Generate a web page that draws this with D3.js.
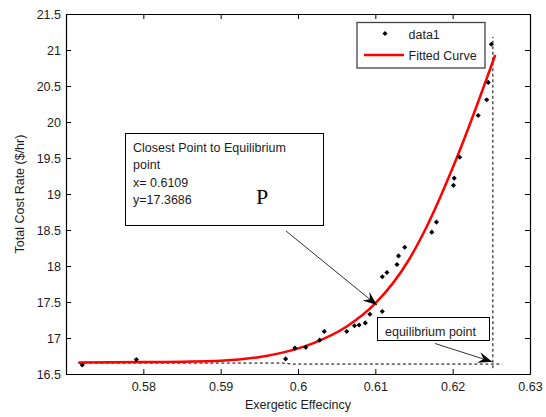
<!DOCTYPE html>
<html>
<head>
<meta charset="utf-8">
<script src="https://cdn.jsdelivr.net/npm/d3@7"></script>
<style>
    html, body { margin: 0; padding: 0; background: #fff; }
    svg { display: block; }
</style>
</head>
<body>
<div id="chart"></div>
<script>
// ===== data =====
const effX = [0.5721, 0.5791, 0.5984, 0.5996, 0.6010, 0.6028, 0.6034, 0.6063, 0.6073, 0.6079,
    0.6087, 0.6093, 0.6109, 0.6109, 0.6115, 0.6128, 0.6130, 0.6138, 0.6173, 0.6179,
    0.6201, 0.6202, 0.6209, 0.6233, 0.6244, 0.6246, 0.6250];
const costY = [16.625, 16.70, 16.71, 16.86, 16.87, 16.97, 17.09, 17.09, 17.17, 17.18,
    17.21, 17.33, 17.3686, 17.85, 17.91, 18.02, 18.14, 18.26, 18.47, 18.61,
    19.12, 19.22, 19.51, 20.09, 20.31, 20.55, 21.08];

const fitX = [0.5716, 0.580, 0.590, 0.5947, 0.5977, 0.6020, 0.6063, 0.6100, 0.6143, 0.6167, 0.6206, 0.6255];
const fitY = [16.66, 16.665, 16.685, 16.73, 16.79, 16.93, 17.16, 17.48, 18.08, 18.56, 19.52, 20.93];

const eqLineX = [0.5716, 0.5980, 0.5992, 0.6264];
const eqLineY = [16.652, 16.652, 16.638, 16.638];
const eqVertX = [0.6252, 0.6252];
const eqVertY = [16.58, 21.18];

const xTicks = [0.58, 0.59, 0.60, 0.61, 0.62, 0.63];
const yTicks = [16.5, 17, 17.5, 18, 18.5, 19, 19.5, 20, 20.5, 21, 21.5];

const closestLines = ["Closest Point to Equilibrium", "point", "x= 0.6109", "y=17.3686"];
const pTip = [0.6102, 17.458];
const eqTip = [0.6251, 16.67];

// ===== layout =====
const W = 546, H = 417;
const mLeft = 66, mRight = 530, mTop = 14, mBottom = 374;
const font = "Arial, 'Liberation Sans', sans-serif";
const ink = "#1c1c24";

const svg = d3.select("#chart").append("svg")
    .attr("width", W)
    .attr("height", H);

svg.append("rect").attr("width", W).attr("height", H).attr("fill", "#fff");

const x = d3.scaleLinear().domain([0.57, 0.63]).range([mLeft, mRight]);
const y = d3.scaleLinear().domain([16.5, 21.5]).range([mBottom, mTop]);

// ===== axes (box with inward ticks) =====
function styleAxis(sel) {
    sel.selectAll("path.domain").attr("stroke", "#000").attr("stroke-width", 1.2);
    sel.selectAll(".tick line").attr("stroke", "#000").attr("stroke-width", 1);
    sel.selectAll(".tick text")
        .attr("fill", ink)
        .style("font-family", font)
        .style("font-size", "12.5px");
}

svg.append("g")
    .attr("transform", `translate(0,${mBottom})`)
    .call(d3.axisBottom(x).tickValues(xTicks).tickFormat(d3.format("~g"))
        .tickSizeInner(-5).tickSizeOuter(0).tickPadding(8))
    .call(styleAxis);

svg.append("g")
    .attr("transform", `translate(0,${mTop})`)
    .call(d3.axisTop(x).tickValues(xTicks).tickFormat("")
        .tickSizeInner(-5).tickSizeOuter(0))
    .call(styleAxis);

svg.append("g")
    .attr("transform", `translate(${mLeft},0)`)
    .call(d3.axisLeft(y).tickValues(yTicks).tickFormat(d3.format("~g"))
        .tickSizeInner(-5).tickSizeOuter(0).tickPadding(5))
    .call(styleAxis);

svg.append("g")
    .attr("transform", `translate(${mRight},0)`)
    .call(d3.axisRight(y).tickValues(yTicks).tickFormat("")
        .tickSizeInner(-5).tickSizeOuter(0))
    .call(styleAxis);

svg.append("text")
    .attr("x", (mLeft + mRight) / 2)
    .attr("y", 408.5)
    .attr("text-anchor", "middle")
    .attr("fill", ink)
    .style("font-family", font)
    .style("font-size", "12.5px")
    .text("Exergetic Effecincy");

svg.append("text")
    .attr("transform", `translate(24,${(mTop + mBottom) / 2}) rotate(-90)`)
    .attr("text-anchor", "middle")
    .attr("fill", ink)
    .style("font-family", font)
    .style("font-size", "12.5px")
    .text("Total Cost Rate ($/hr)");

// ===== dashed equilibrium guides =====
const line = d3.line().x(d => x(d[0])).y(d => y(d[1]));

svg.append("path")
    .attr("d", line(d3.zip(eqLineX, eqLineY)))
    .attr("fill", "none")
    .attr("stroke", "#000")
    .attr("stroke-width", 1)
    .attr("stroke-dasharray", "3,2.5");

svg.append("path")
    .attr("d", line(d3.zip(eqVertX, eqVertY)))
    .attr("fill", "none")
    .attr("stroke", "#000")
    .attr("stroke-width", 1)
    .attr("stroke-dasharray", "3,2.5");

// ===== fitted curve =====
svg.append("path")
    .attr("d", d3.line().x(d => x(d[0])).y(d => y(d[1])).curve(d3.curveMonotoneX)(d3.zip(fitX, fitY)))
    .attr("fill", "none")
    .attr("stroke", "#ff0000")
    .attr("stroke-width", 2.5);

// ===== data points (small filled diamonds, square turned 45deg) =====
const marker = d3.symbol().type(d3.symbolSquare).size(13);
svg.append("g").selectAll("path")
    .data(d3.zip(effX, costY))
    .join("path")
    .attr("transform", d => `translate(${x(d[0])},${y(d[1])}) rotate(45)`)
    .attr("d", marker)
    .attr("fill", "#000");

// ===== arrows =====
function arrow(x1, y1, x2, y2) {
    svg.append("line")
        .attr("x1", x1).attr("y1", y1).attr("x2", x2).attr("y2", y2)
        .attr("stroke", "#333")
        .attr("stroke-width", 1);
    const a = Math.atan2(y2 - y1, x2 - x1);
    const len = 14, half = 5.5, notch = 9;
    const ux = Math.cos(a), uy = Math.sin(a);
    const px = -uy, py = ux;
    const pts = [
        [x2, y2],
        [x2 - ux * len + px * half, y2 - uy * len + py * half],
        [x2 - ux * notch, y2 - uy * notch],
        [x2 - ux * len - px * half, y2 - uy * len - py * half]
    ];
    svg.append("path")
        .attr("d", "M" + pts.map(p => p.join(",")).join("L") + "Z")
        .attr("fill", "#000");
}

arrow(286, 231, x(pTip[0]), y(pTip[1]));
arrow(435, 343.5, x(eqTip[0]), y(eqTip[1]));

// ===== annotation: closest point =====
svg.append("rect")
    .attr("x", 125.5).attr("y", 133.5)
    .attr("width", 198).attr("height", 92)
    .attr("fill", "#fff")
    .attr("stroke", "#000")
    .attr("stroke-width", 1);

svg.append("g").selectAll("text")
    .data(closestLines)
    .join("text")
    .attr("x", 133)
    .attr("y", (d, k) => 152 + k * 17.4)
    .attr("fill", ink)
    .style("font-family", font)
    .style("font-size", "12.5px")
    .text(d => d);

svg.append("text")
    .attr("x", 256)
    .attr("y", 203.5)
    .attr("fill", "#000")
    .style("font-family", "'Liberation Serif', 'DejaVu Serif', serif")
    .style("font-size", "22px")
    .text("P");

// ===== annotation: equilibrium point =====
svg.append("rect")
    .attr("x", 377.5).attr("y", 317.5)
    .attr("width", 112).attr("height", 23)
    .attr("fill", "#fff")
    .attr("stroke", "#000")
    .attr("stroke-width", 1);

svg.append("text")
    .attr("x", 385)
    .attr("y", 335.5)
    .attr("fill", ink)
    .style("font-family", font)
    .style("font-size", "12.5px")
    .text("equilibrium point");

// ===== legend =====
const legend = svg.append("g");
legend.append("rect")
    .attr("x", 357).attr("y", 22.5)
    .attr("width", 128).attr("height", 45.5)
    .attr("fill", "#fff")
    .attr("stroke", "#444")
    .attr("stroke-width", 1.3);

legend.append("path")
    .attr("transform", "translate(385,33.5) rotate(45)")
    .attr("d", marker)
    .attr("fill", "#000");

legend.append("line")
    .attr("x1", 364).attr("x2", 404)
    .attr("y1", 55).attr("y2", 55)
    .attr("stroke", "#ff0000")
    .attr("stroke-width", 2.5);

legend.selectAll("text.lbl")
    .data(["data1", "Fitted Curve"])
    .join("text")
    .attr("class", "lbl")
    .attr("x", 408.5)
    .attr("y", (d, k) => 38.5 + k * 21.5)
    .attr("fill", ink)
    .style("font-family", font)
    .style("font-size", "12.5px")
    .text(d => d);
</script>
</body>
</html>
